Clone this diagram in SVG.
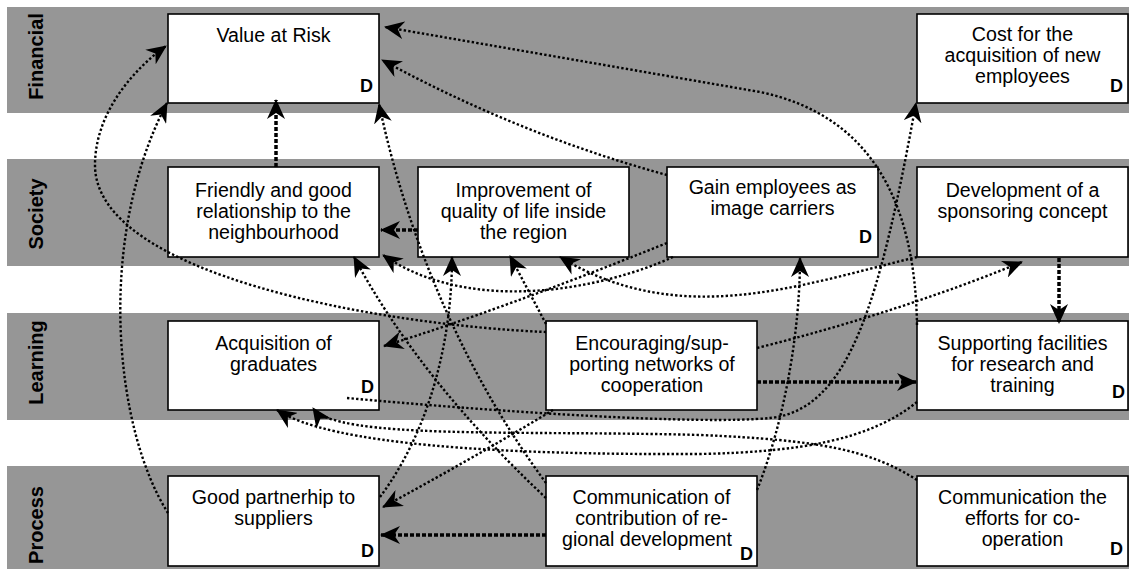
<svg xmlns="http://www.w3.org/2000/svg" width="1129" height="569" viewBox="0 0 1129 569">
<defs>
<style>
.band{fill:#969696}
.lbl{font-family:"Liberation Sans",Arial,sans-serif;font-weight:bold;font-size:20px;fill:#000;text-anchor:middle}
.box{fill:#fff;stroke:#000;stroke-width:1.6}
.t{font-family:"Liberation Sans",Arial,sans-serif;font-size:19.6px;fill:#000;text-anchor:middle}
.d{font-family:"Liberation Sans",Arial,sans-serif;font-size:18px;font-weight:bold;fill:#000;text-anchor:end}
.c{fill:none;stroke:#000;stroke-width:2.4;stroke-dasharray:2.4 2.2;marker-end:url(#ah)}
.ct{fill:none;stroke:#000;stroke-width:3.5;stroke-dasharray:4 2;marker-end:url(#ah)}
</style>
<marker id="ah" viewBox="0 0 20 18" refX="19" refY="9" markerWidth="20" markerHeight="18" markerUnits="userSpaceOnUse" orient="auto">
<path d="M20,9 L0,0 L6,9 L0,18 Z" fill="#000"/>
</marker>
</defs>
<rect width="1129" height="569" fill="#fff"/>
<g id="bands">
<rect class="band" x="7" y="7" width="1122" height="106"/>
<rect class="band" x="7" y="159" width="1122" height="107"/>
<rect class="band" x="7" y="313" width="1122" height="107"/>
<rect class="band" x="7" y="466" width="1122" height="103"/>
<text class="lbl" transform="translate(43,56.5) rotate(-90)">Financial</text>
<text class="lbl" transform="translate(43,214) rotate(-90)">Society</text>
<text class="lbl" transform="translate(43,362.5) rotate(-90)">Learning</text>
<text class="lbl" transform="translate(43,525) rotate(-90)">Process</text>
</g>
<g id="n-var">
<rect class="box" x="168" y="14" width="211" height="89"/>
<text class="t" x="273.5" y="41.5">Value at Risk</text>
<text class="d" x="373" y="92">D</text>
</g>
<g id="n-cost">
<rect class="box" x="917" y="14" width="211" height="89"/>
<text class="t" x="1022.5" y="40.7">Cost for the</text>
<text class="t" x="1022.5" y="61.7">acquisition of new</text>
<text class="t" x="1022.5" y="82.7">employees</text>
<text class="d" x="1123" y="92">D</text>
</g>
<g id="n-friendly">
<rect class="box" x="168" y="167" width="211" height="90"/>
<text class="t" x="273.5" y="196.5">Friendly and good</text>
<text class="t" x="273.5" y="217.5">relationship to the</text>
<text class="t" x="273.5" y="238.5">neighbourhood</text>
</g>
<g id="n-improvement">
<rect class="box" x="418" y="167" width="211" height="90"/>
<text class="t" x="523.5" y="196.5">Improvement of</text>
<text class="t" x="523.5" y="217.5">quality of life inside</text>
<text class="t" x="523.5" y="238.5">the region</text>
</g>
<g id="n-gain">
<rect class="box" x="667" y="167" width="211" height="90"/>
<text class="t" x="772.5" y="194">Gain employees as</text>
<text class="t" x="772.5" y="215">image carriers</text>
<text class="d" x="872" y="243">D</text>
</g>
<g id="n-sponsoring">
<rect class="box" x="917" y="167" width="211" height="90"/>
<text class="t" x="1022.5" y="196.5">Development of a</text>
<text class="t" x="1022.5" y="217.5">sponsoring concept</text>
</g>
<g id="n-graduates">
<rect class="box" x="168" y="321" width="211" height="89"/>
<text class="t" x="273.5" y="349.5">Acquisition of</text>
<text class="t" x="273.5" y="370.5">graduates</text>
<text class="d" x="374" y="393">D</text>
</g>
<g id="n-networks">
<rect class="box" x="546" y="321" width="211" height="89"/>
<text class="t" x="652" y="350">Encouraging/sup-</text>
<text class="t" x="652" y="371">porting networks of</text>
<text class="t" x="652" y="392">cooperation</text>
</g>
<g id="n-facilities">
<rect class="box" x="917" y="321" width="211" height="89"/>
<text class="t" x="1022.5" y="349.5">Supporting facilities</text>
<text class="t" x="1022.5" y="370.5">for research and</text>
<text class="t" x="1022.5" y="391.5">training</text>
<text class="d" x="1125" y="398">D</text>
</g>
<g id="n-suppliers">
<rect class="box" x="168" y="476" width="211" height="90"/>
<text class="t" x="273.5" y="503.5">Good partnerhip to</text>
<text class="t" x="273.5" y="524.5">suppliers</text>
<text class="d" x="374" y="557">D</text>
</g>
<g id="n-contribution">
<rect class="box" x="546" y="476" width="211" height="90"/>
<text class="t" x="651.5" y="503.5">Communication of</text>
<text class="t" x="651.5" y="524.5">contribution of re-</text>
<text class="t" x="647" y="545.5">gional development</text>
<text class="d" x="753" y="560">D</text>
</g>
<g id="n-efforts">
<rect class="box" x="917" y="476" width="211" height="90"/>
<text class="t" x="1022.5" y="504">Communication the</text>
<text class="t" x="1022.5" y="525">efforts for co-</text>
<text class="t" x="1022.5" y="546">operation</text>
<text class="d" x="1123" y="555">D</text>
</g>
<g id="connectors">
<path class="ct" d="M276,167 L276,100"/>
<path class="ct" d="M418,230 L381,230"/>
<path class="ct" d="M757,382 L916,382"/>
<path class="ct" d="M546,535 L381,535"/>
<path class="ct" d="M1059,258 L1059,323"/>
<path class="c" d="M546,332 C380,325 95,275 95,165 C95,112 135,68 166,46"/>
<path class="c" d="M168,513 C115,430 95,240 167,103"/>
<path class="c" d="M667,175 Q520,135 382,60"/>
<path class="c" d="M917,325 C915,200 870,115 760,92 L385,27"/>
<path class="c" d="M546,483 C470,380 410,250 379,104"/>
<path class="c" d="M546,498 Q420,380 354,257"/>
<path class="c" d="M673,257 C600,290 470,315 383,255"/>
<path class="c" d="M667,243 Q500,310 384,346"/>
<path class="c" d="M917,257 C800,285 680,330 560,257"/>
<path class="c" d="M546,324 L510,256"/>
<path class="c" d="M757,348 Q900,312 1022,262"/>
<path class="c" d="M757,490 C785,420 800,330 800,258"/>
<path class="c" d="M347,398 C500,412 700,425 770,418 C850,410 880,300 916,103"/>
<path class="c" d="M917,402 C870,440 800,452 700,454 C500,455 330,445 277,410"/>
<path class="c" d="M917,480 C870,450 820,440 700,435 C520,430 335,440 313,408"/>
<path class="c" d="M380,497 C430,430 452,340 452,257"/>
<path class="c" d="M553,410 Q470,460 383,507"/>
</g>
</svg>
